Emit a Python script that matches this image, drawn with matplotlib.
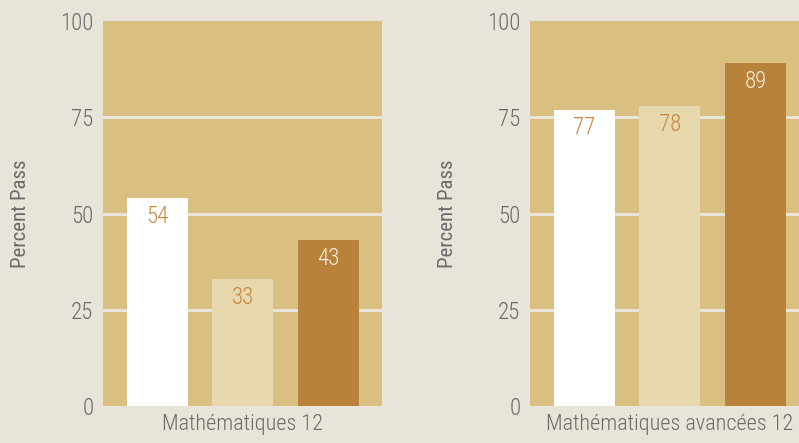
import matplotlib
matplotlib.use("Agg")
import matplotlib.pyplot as plt

# data
panels = ["Mathématiques 12", "Mathématiques avancées 12"]
values_math12 = [54, 33, 43]
values_adv12 = [77, 78, 89]
yticks = [0, 25, 50, 75, 100]
ylabel = "Percent Pass"

BG = "#e9e4d9"
PANEL = "#d9c080"
BAR_COLS = ["#ffffff", "#e8d8ae", "#b8823a"]
VAL_COLS = ["#c4883f", "#c4883f", "#f6eedc"]
GREY = "#6a6a6a"

plt.rcParams["font.family"] = ["Roboto Condensed", "Roboto", "DejaVu Sans"]
plt.rcParams["font.weight"] = "light"

fig = plt.figure(figsize=(7.99, 4.43), dpi=100, facecolor=BG)
positions = [[103 / 799, 37 / 443, 279 / 799, 385 / 443],
             [530 / 799, 37 / 443, 279 / 799, 385 / 443]]

for pos, name, vals in zip(positions, panels, [values_math12, values_adv12]):
    ax = fig.add_axes(pos)
    ax.set_facecolor(PANEL)
    xs = list(range(len(vals)))
    ax.bar(xs, vals, width=0.713, color=BAR_COLS, edgecolor="none", zorder=3)
    for x, v, c in zip(xs, vals, VAL_COLS):
        ax.annotate(f"{v}", (x, v), xytext=(0, -5), textcoords="offset points",
                    ha="center", va="top", fontsize=16.5, color=c, zorder=4)
    ax.set_xlim(-0.637, 2.626)
    ax.set_ylim(0, 100)
    ax.set_yticks(yticks)
    ax.set_yticklabels([str(t) for t in yticks])
    ax.set_xticks([1])
    ax.set_xticklabels([name])
    for t in yticks[1:-1]:
        ax.axhline(t, color=BG, lw=2.2, zorder=1)
    ax.tick_params(length=0, labelcolor=GREY)
    ax.tick_params(axis="y", pad=7, labelsize=16.5)
    ax.tick_params(axis="x", pad=6, labelsize=16)
    ax.set_ylabel(ylabel, fontsize=15, color=GREY)
    ax.yaxis.set_label_coords(-0.26, 0.5)
    for s in ax.spines.values():
        s.set_visible(False)

fig.savefig("out.png", dpi=100, facecolor=BG)
